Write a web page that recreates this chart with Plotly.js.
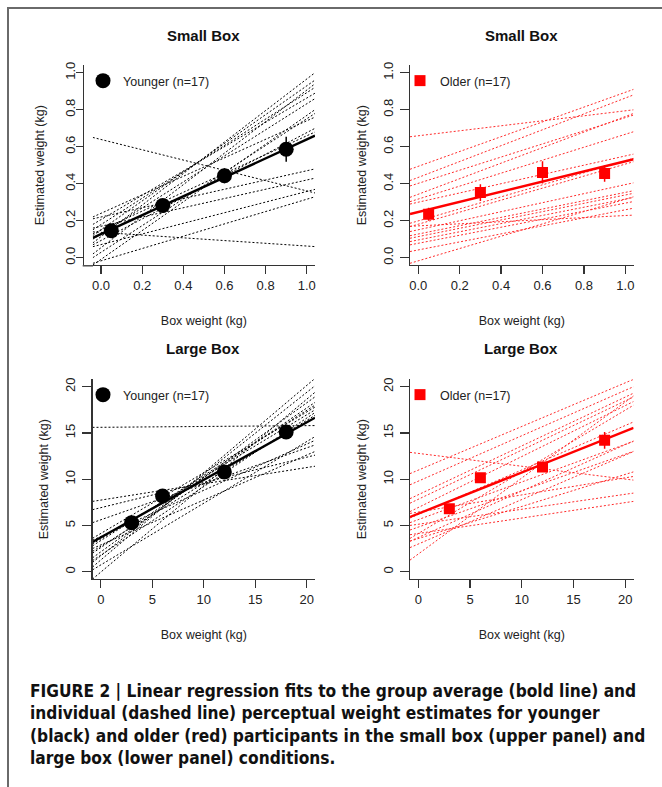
<!DOCTYPE html>
<html><head><meta charset="utf-8">
<script src="https://cdn.plot.ly/plotly-3.0.1.min.js"></script>
<style>html,body{margin:0;padding:0;background:#fff}#chart{width:662px;height:787px}</style>
</head><body><div id="chart"></div>
<script>
// ---------- DATA ----------
const boxSmall = [0.05, 0.3, 0.6, 0.9];          // kg
const boxLarge = [3, 6, 12, 18];                  // kg

const youngSmallMean = [0.146, 0.282, 0.443, 0.586];
const youngSmallSE   = [0.02, 0.025, 0.04, 0.068];
const oldSmallMean   = [0.235, 0.352, 0.461, 0.455];
const oldSmallSE     = [0.035, 0.045, 0.06, 0.045];
const youngLargeMean = [5.30, 8.18, 10.78, 15.10];
const youngLargeSE   = [0.35, 0.40, 0.40, 0.50];
const oldLargeMean   = [6.81, 10.16, 11.32, 14.20];
const oldLargeSE     = [0.45, 0.50, 0.50, 0.90];

// group regression fits [intercept, slope]
const youngSmallFit = [0.128, 0.511];
const oldSmallFit   = [0.247, 0.274];
const youngLargeFit = [3.71, 0.622];
const oldLargeFit   = [6.27, 0.446];

// individual regression fits (17 per group)
const youngSmallInt   = [0.114, 0.151, 0.054, 0.240, 0.206, 0.128, -0.009, 0.029, 0.179, 0.150, 0.639, 0.137, 0.220, 0.170, 0.071, -0.017, 0.093];
const youngSmallSlope = [0.852, 0.778, 0.852, 0.500, 0.657, 0.704, 0.778, 0.722, 0.713, 0.509, -0.278, -0.074, 0.250, 0.250, 0.287, 0.333, 0.583];
const oldSmallInt     = [0.659, 0.494, 0.434, 0.402, 0.343, 0.317, 0.300, 0.199, 0.181, 0.151, 0.128, 0.114, 0.096, 0.078, 0.042, -0.017, 0.172];
const oldSmallSlope   = [0.135, 0.400, 0.429, 0.355, 0.420, 0.350, 0.250, 0.325, 0.325, 0.244, 0.225, 0.225, 0.221, 0.217, 0.217, 0.333, 0.056];
const youngLargeInt   = [15.61, 7.74, 6.92, 5.61, 3.80, 2.89, -0.05, 1.26, 1.71, 2.14, 2.60, 3.36, 3.54, 1.79, 2.74, 4.13, 0.73];
const youngLargeSlope = [0.009, 0.176, 0.273, 0.389, 0.500, 0.486, 0.935, 0.944, 0.884, 0.806, 0.755, 0.704, 0.671, 0.741, 0.681, 0.657, 0.667];
const oldLargeInt     = [12.79, 10.98, 9.79, 8.32, 7.83, 6.94, 6.19, 5.63, 4.82, 4.13, 1.91, 6.45, 5.13, 4.13, 3.58, 3.70, 2.99];
const oldLargeSlope   = [-0.139, 0.472, 0.491, 0.528, 0.532, 0.551, 0.481, 0.407, 0.394, 0.667, 0.822, 0.185, 0.162, 0.167, 0.347, 0.502, 0.481];

const panelTitles = ['Small Box', 'Small Box', 'Large Box', 'Large Box'];
const groupNames = ['Younger (n=17)', 'Older (n=17)'];
const xTitle = 'Box weight (kg)';
const yTitle = 'Estimated weight (kg)';
const caption = 'FIGURE 2 | Linear regression fits to the group average (bold line) and<br>individual (dashed line) perceptual weight estimates for younger<br>(black) and older (red) participants in the small box (upper panel) and<br>large box (lower panel) conditions.';

// ---------- LAYOUT HELPERS ----------
const W = 662, H = 787;
const PX = v => v / W;
const PY = v => 1 - v / H;
const FONT = 'Liberation Sans, Arial, Helvetica, sans-serif';
const BLACK = '#000000', RED = '#ff0000';
const smallRange = [-0.04, 1.04], largeRange = [-0.8, 20.8];

function panelTraces(xa, ya, xs, mean, se, fit, ints, slopes, range, color, dashColor, symbol, size, name, legendId) {
  const tr = [];
  ints.forEach((b0, k) => {
    tr.push({type: 'scatter', mode: 'lines', xaxis: xa, yaxis: ya,
      x: [range[0], range[1]], y: [b0 + slopes[k] * range[0], b0 + slopes[k] * range[1]],
      line: {color: dashColor, width: 1, dash: '2px,2px'}, showlegend: false, hoverinfo: 'skip'});
  });
  tr.push({type: 'scatter', mode: 'lines', xaxis: xa, yaxis: ya,
    x: [range[0], range[1]], y: [fit[0] + fit[1] * range[0], fit[0] + fit[1] * range[1]],
    line: {color: color, width: 2.4}, showlegend: false, hoverinfo: 'skip'});
  tr.push({type: 'scatter', mode: 'markers', xaxis: xa, yaxis: ya, x: xs, y: mean,
    error_y: {type: 'data', array: se, visible: true, color: color, thickness: 1.5, width: 0},
    marker: {symbol: symbol, size: size, color: color, line: {width: 0}},
    name: name, legend: legendId, showlegend: true});
  return tr;
}

const data = [].concat(
  panelTraces('x', 'y', boxSmall, youngSmallMean, youngSmallSE, youngSmallFit, youngSmallInt, youngSmallSlope, smallRange, BLACK, '#000', 'circle', 15, groupNames[0], 'legend'),
  panelTraces('x2', 'y2', boxSmall, oldSmallMean, oldSmallSE, oldSmallFit, oldSmallInt, oldSmallSlope, smallRange, RED, '#ff2a2a', 'square', 11, groupNames[1], 'legend2'),
  panelTraces('x3', 'y3', boxLarge, youngLargeMean, youngLargeSE, youngLargeFit, youngLargeInt, youngLargeSlope, largeRange, BLACK, '#000', 'circle', 15, groupNames[0], 'legend3'),
  panelTraces('x4', 'y4', boxLarge, oldLargeMean, oldLargeSE, oldLargeFit, oldLargeInt, oldLargeSlope, largeRange, RED, '#ff2a2a', 'square', 11, groupNames[1], 'legend4')
);

const axBase = {
  showline: true, linecolor: '#333', linewidth: 1.3, ticks: 'outside', ticklen: 8,
  tickwidth: 1.3, tickcolor: '#333', showgrid: false, zeroline: false, mirror: false,
  tickfont: {family: FONT, size: 13, color: '#222'}, fixedrange: true
};
function xAx(domain, anchor, range, dtick, fmt) {
  return Object.assign({}, axBase, {domain: domain, anchor: anchor, range: range, tick0: 0, dtick: dtick, tickformat: fmt,
    title: {text: xTitle, font: {family: FONT, size: 12.5, color: '#222'}, standoff: 24}});
}
function yAx(domain, anchor, range, dtick, fmt, extra) {
  return Object.assign({}, axBase, {domain: domain, anchor: anchor, range: range, tick0: 0, dtick: dtick, tickformat: fmt, tickangle: -90,
    ticklen: 9, ticklabelstandoff: 2,
    title: {text: yTitle, font: {family: FONT, size: 12.5, color: '#222'}, standoff: 11}}, extra || {});
}
const topY = [PY(265.1), PY(65.3)], botY = [PY(579.1), PY(379.3)];
const legBase = {xanchor: 'left', yanchor: 'middle', bgcolor: 'rgba(0,0,0,0)', borderwidth: 0,
  font: {family: FONT, size: 12.5, color: '#222'}, itemwidth: 30};

const layout = {
  width: W, height: H, margin: {l: 0, r: 0, t: 0, b: 0},
  paper_bgcolor: '#ffffff', plot_bgcolor: 'rgba(0,0,0,0)', showlegend: true,
  xaxis: xAx([PX(92.8), PX(315)], 'y', smallRange, 0.2, '.1f'),
  yaxis: yAx(topY, 'free', smallRange, 0.2, '.1f', {position: PX(82.7), ticklen: 7, ticklabelstandoff: -4,
    title: {text: yTitle, font: {family: FONT, size: 12.5, color: '#222'}, standoff: 13}}),
  xaxis2: xAx([PX(410), PX(633.6)], 'y2', smallRange, 0.2, '.1f'),
  yaxis2: yAx(topY, 'x2', smallRange, 0.2, '.1f'),
  xaxis3: xAx([PX(92.5), PX(315)], 'y3', largeRange, 5, 'd'),
  yaxis3: yAx(botY, 'x3', largeRange, 5, 'd'),
  xaxis4: xAx([PX(410), PX(633.6)], 'y4', largeRange, 5, 'd'),
  yaxis4: yAx(botY, 'x4', largeRange, 5, 'd'),
  legend:  Object.assign({}, legBase, {x: PX(83), y: PY(81)}),
  legend2: Object.assign({}, legBase, {x: PX(400), y: PY(81)}),
  legend3: Object.assign({}, legBase, {x: PX(83), y: PY(395)}),
  legend4: Object.assign({}, legBase, {x: PX(400), y: PY(395)}),
  annotations: [
    {text: '<b>' + panelTitles[0] + '</b>', x: PX(203), y: PY(36)},
    {text: '<b>' + panelTitles[1] + '</b>', x: PX(521), y: PY(36)},
    {text: '<b>' + panelTitles[2] + '</b>', x: PX(203), y: PY(349)},
    {text: '<b>' + panelTitles[3] + '</b>', x: PX(521), y: PY(349)}
  ].map(a => Object.assign(a, {xref: 'paper', yref: 'paper', xanchor: 'center', yanchor: 'middle', showarrow: false,
      font: {family: FONT, size: 15, color: '#111'}})).concat([
    {text: '<b>' + caption + '</b>', x: PX(28), y: PY(724), xref: 'paper', yref: 'paper', xanchor: 'left', yanchor: 'middle',
     align: 'left', showarrow: false, font: {family: 'Liberation Sans Narrow, Arial Narrow, DejaVu Sans Condensed, sans-serif', size: 17.2, color: '#111'}}
  ]),
  shapes: [
    {type: 'rect', xref: 'paper', yref: 'paper', x0: PX(8), y0: PY(8), x1: 1.1, y1: -0.1, line: {color: '#6a6a6a', width: 2}},
    {type: 'line', xref: 'paper', yref: 'paper', x0: PX(82.7), x1: PX(93), y0: PY(265.8), y1: PY(265.8), line: {color: '#333', width: 1.3}}
  ]
};

Plotly.newPlot('chart', data, layout, {staticPlot: true, displayModeBar: false});
</script></body></html>
